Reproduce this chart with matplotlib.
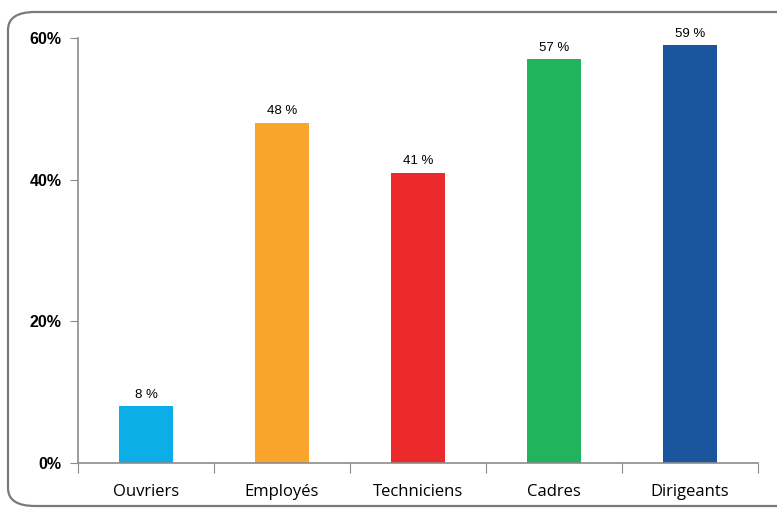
import matplotlib
matplotlib.use("Agg")
import matplotlib.pyplot as plt
from matplotlib.patches import FancyBboxPatch
from matplotlib.ticker import FuncFormatter

categories = ["Ouvriers", "Employés", "Techniciens", "Cadres", "Dirigeants"]
values = [8, 48, 41, 57, 59]
colors = ["#0BAEE6", "#F9A42A", "#EC2A2B", "#22B45C", "#1A559E"]
yticks = [0, 20, 40, 60]

_AXIS = "#8c8c8c"

fig = plt.figure(figsize=(7.77, 5.08), dpi=100)
fig.patch.set_facecolor("white")

# rounded frame around the chart (runs off the right edge like the source)
frame = FancyBboxPatch((8 / 777, 2 / 508), 800 / 777, 494 / 508,
                       boxstyle="round,pad=0,rounding_size=0.035",
                       transform=fig.transFigure, facecolor="none",
                       edgecolor="#7a7a7a", linewidth=1.6, clip_on=False)
fig.patches.append(frame)

ax = fig.add_axes([78 / 777, 45 / 508, 680 / 777, 425 / 508])
x = list(range(len(categories)))
bars = ax.bar(x, values, width=0.4, color=colors)

ax.set_xlim(-0.5, len(categories) - 0.5)
ax.set_ylim(0, 60)
ax.set_yticks(yticks)
ax.yaxis.set_major_formatter(FuncFormatter(lambda v, _: f"{v:.0f}%"))
for lbl in ax.get_yticklabels():
    lbl.set_fontfamily("Liberation Sans")
    lbl.set_fontweight("bold")
    lbl.set_fontsize(11.5)

ax.set_xticks([i - 0.5 for i in range(len(categories) + 1)])
ax.set_xticklabels([])
ax.set_xticks(x, minor=True)
ax.set_xticklabels(categories, minor=True, fontsize=12, family="Open Sans")
ax.tick_params(axis="x", which="minor", length=0, pad=15)
ax.tick_params(axis="x", which="major", length=7, color=_AXIS, direction="out")
ax.tick_params(axis="y", length=6, color=_AXIS, pad=6)

for side in ("top", "right"):
    ax.spines[side].set_visible(False)
for side in ("left", "bottom"):
    ax.spines[side].set_color(_AXIS)
    ax.spines[side].set_linewidth(1.2)

for b, v in zip(bars, values):
    ax.annotate(f"{v} %", (b.get_x() + b.get_width() / 2, v),
                xytext=(0, 4), textcoords="offset points",
                ha="center", va="bottom", fontsize=9.5,
                family="Liberation Sans")

fig.savefig("out.png", dpi=100)
